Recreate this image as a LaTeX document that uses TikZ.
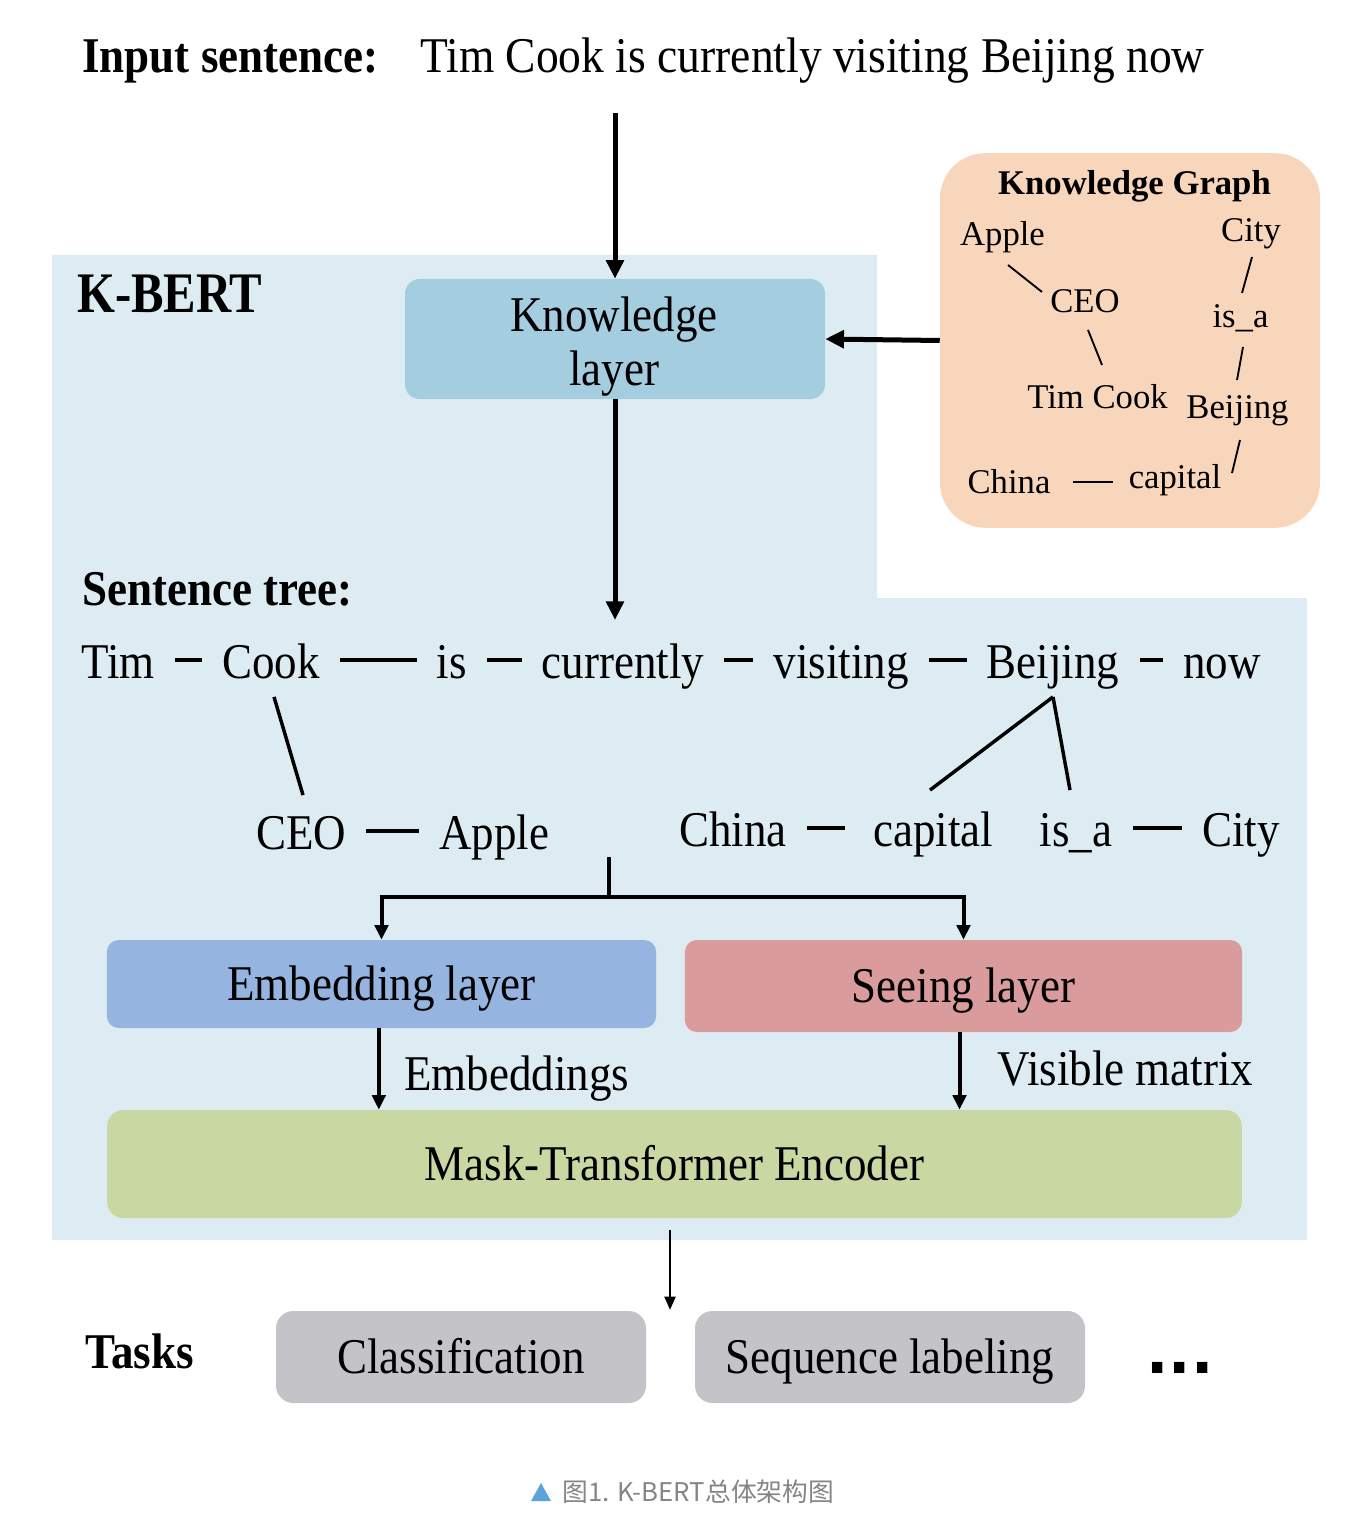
\documentclass[tikz,border=0pt]{standalone}
\usepackage{fontspec}
\usepackage{graphicx}
\setmainfont{Liberation Serif}
\newfontfamily\cjkfont{Noto Sans CJK SC}
\newfontfamily\dotfont{DejaVu Sans}
\usetikzlibrary{arrows.meta,calc}
\newcommand{\hs}[1]{\scalebox{0.9}[1]{#1}}
\definecolor{bgblue}{HTML}{DDECF2}
\definecolor{klblue}{HTML}{A4CDDF}
\definecolor{kgpeach}{HTML}{F8D6BC}
\definecolor{embblue}{HTML}{96B4E0}
\definecolor{seered}{HTML}{D99B9B}
\definecolor{maskgreen}{HTML}{C9D8A3}
\definecolor{taskgray}{HTML}{C4C3C7}
\definecolor{capgray}{HTML}{858585}
\definecolor{capblue}{HTML}{5BA4D9}
\begin{document}
\begin{tikzpicture}[x=0.75pt,y=-0.75pt,
  big/.style={font=\fontsize{37.5}{40}\selectfont, inner sep=0pt},
  bigb/.style={font=\fontsize{37.5}{40}\selectfont\bfseries, inner sep=0pt},
  kgt/.style={font=\fontsize{26}{28}\selectfont, inner sep=0pt, anchor=base},
  layerbox/.style={big, rounded corners=#1, text height=25pt, text depth=0pt},
  tword/.style={big, text height=28pt, text depth=0pt},
  arrbig/.style={line width=3.75pt, -{Triangle[length=14pt,width=13pt]}},
  arrmid/.style={line width=3pt, -{Triangle[length=11pt,width=10pt]}},
  arrthin/.style={line width=2.2pt, -{Triangle[length=10pt,width=8pt]}},
  tdash/.style={line width=3.5pt, shorten <=15pt, shorten >=15pt},
  tdiag/.style={line width=2.6pt},
  kgline/.style={line width=1.4pt}]
\useasboundingbox (0,0) rectangle (1354,1526);
\fill[white] (0,0) rectangle (1354,1526);

% K-BERT region
\fill[bgblue] (52,255) -- (877,255) -- (877,598) -- (1307,598) -- (1307,1240) -- (52,1240) -- cycle;

% Title
\node[bigb, anchor=base west] (intitle) at (82,73) {\hs{Input sentence:}};
\node[big, anchor=base west] (insent) at (420,73) {\scalebox{0.91}[1]{Tim Cook is currently visiting Beijing now}};
\coordinate (inarrow) at (615,113);

\node[font=\fontsize{43}{46}\selectfont\bfseries, inner sep=0pt, anchor=base west] (kbert) at (77,313) {\scalebox{0.85}[1]{K-BERT}};

% Knowledge layer
\node[draw=none, fill=klblue, rounded corners=11pt, minimum width=315pt, minimum height=90pt, inner sep=0pt] (kl) at (615,339) {};
\node[big, anchor=base] (klt1) at (614,331) {\hs{Knowledge}};
\node[big, anchor=base] (klt2) at (614,385) {\hs{layer}};
\draw[arrbig] (inarrow) -- (kl.north);

% Knowledge graph
\node[fill=kgpeach, rounded corners=34pt, minimum width=285pt, minimum height=281pt, inner sep=0pt] (kg) at (1130,340.5) {};
\node[kgt, font=\fontsize{26}{28}\selectfont\bfseries] (kgtitle) at (1134.5,195) {Knowledge Graph};
\node[kgt] (kapple) at (1002.5,246) {Apple};
\node[kgt] (kcity) at (1251,242) {City};
\node[kgt] (kceo) at (1085,312) {CEO};
\node[kgt] (kisa) at (1240.5,328) {is\_a};
\node[kgt] (ktc) at (1097.5,408) {Tim Cook};
\node[kgt] (kbj) at (1237.5,418) {Beijing};
\node[kgt] (kchina) at (1009,493) {China};
\node[kgt] (kcap) at (1175,488) {capital};
\draw[kgline] ($(kapple.base)+(5.5,19)$) -- ($(kceo.base)+(-43,-20)$);
\draw[kgline] ($(kceo.base)+(3,18)$) -- ($(ktc.base)+(4.5,-43)$);
\draw[kgline] ($(kcity.base)+(1,15)$) -- ($(kisa.base)+(1.5,-35)$);
\draw[kgline] ($(kisa.base)+(2.5,19)$) -- ($(kbj.base)+(-0.5,-38)$);
\draw[kgline] ($(kchina.base)+(64,-11)$) -- ($(kcap.base)+(-62,-6)$);
\draw[kgline] ($(kbj.base)+(2.5,22)$) -- ($(kcap.base)+(57,-15)$);
\draw[arrbig] (kg.west) -- (kl.east);

% Sentence tree
\coordinate (treein) at (615,620);
\draw[arrbig] (kl.south) -- (treein);
\node[bigb, anchor=base west] (sttitle) at (82,605) {\hs{Sentence tree:}};

\node[tword] (tim) at (118,660) {\hs{Tim}};
\node[tword] (cook) at (271,660) {\hs{Cook}};
\node[tword] (is) at (452,660) {\hs{is}};
\node[tword] (cur) at (623,660) {\hs{currently}};
\node[tword] (vis) at (841,660) {\hs{visiting}};
\node[tword] (bj) at (1053,660) {\hs{Beijing}};
\node[tword] (now) at (1222,660) {\hs{now}};
\draw[tdash] (tim.east) -- (cook.west);
\draw[tdash] (cook.east) -- (is.west);
\draw[tdash] (is.east) -- (cur.west);
\draw[tdash] (cur.east) -- (vis.west);
\draw[tdash] (vis.east) -- (bj.west);
\draw[tdash] (bj.east) -- (now.west);

\node[tword] (ceo) at (301,831) {\hs{CEO}};
\node[tword] (apple) at (494,831) {\hs{Apple}};
\node[tword] (china) at (733,828) {\hs{China}};
\node[tword] (cap) at (933,828) {\hs{capital}};
\node[tword] (isa) at (1076,828) {\hs{is\_a}};
\node[tword] (city) at (1241,828) {\hs{City}};
\draw[tdash] (ceo.east) -- (apple.west);
\draw[tdash, shorten >=21pt] (china.east) -- (cap.west);
\draw[tdash] (isa.east) -- (city.west);

\draw[tdiag] ($(cook.south)+(3,18)$) -- ($(ceo.north)+(2,-17)$);
\draw[tdiag] ($(bj.south)+(0,18)$) -- ($(cap.north)+(-3,-19)$);
\draw[tdiag] ($(bj.south)+(0,18)$) -- ($(isa.north)+(-6,-19)$);

% Layers
\node[layerbox=9pt, fill=embblue, minimum width=412pt, minimum height=66pt] (emb) at (381.5,984) {\hs{Embedding layer}};
\node[layerbox=9pt, fill=seered, minimum width=418pt, minimum height=69pt] (see) at (963.5,986) {\hs{Seeing layer}};
\node[layerbox=12pt, fill=maskgreen, minimum width=851pt, minimum height=81pt] (mask) at (674.5,1164) {\hs{Mask-Transformer Encoder}};

\coordinate (brsplit) at (609,857);
\coordinate (brmid) at (609,897);
\draw[line width=3pt] (brsplit) -- (brmid);
\draw[arrmid] (brmid) -| (emb.north);
\draw[arrmid] (brmid) -| (see.north);

\draw[arrmid] ([xshift=-2]emb.south) -- ([xshift=-2]emb.south |- mask.north);
\draw[arrmid] ([xshift=-3]see.south) -- ([xshift=-3]see.south |- mask.north);
\node[big, anchor=base west] (embl) at (404,1090) {\hs{Embeddings}};
\node[big, anchor=base west] (visl) at (997,1085) {\hs{Visible matrix}};

% Tasks
\coordinate (taskin) at (670,1310);
\draw[arrthin] ($(mask.south)+(-4.5,12)$) -- (taskin);
\node[bigb, anchor=base west] (tasks) at (85,1368) {\hs{Tasks}};
\node[layerbox=13pt, fill=taskgray, minimum width=277.5pt, minimum height=69pt] (cls) at (461,1357) {\hs{Classification}};
\node[layerbox=13pt, fill=taskgray, minimum width=292.5pt, minimum height=69pt] (seq) at (890,1357) {\hs{Sequence labeling}};
\node[font=\dotfont\fontsize{44}{46}\selectfont\bfseries, inner sep=0pt, anchor=base] (dots) at (1180,1373) {...};

% Caption
\fill[capblue] (531,1501) -- (551,1501) -- (541,1483) -- cycle;
\node[font=\cjkfont\fontsize{19.3}{22}\selectfont, text=capgray, anchor=west, inner sep=0pt] (cap) at (562,1492) {图1. K-BERT总体架构图};
\end{tikzpicture}
\end{document}
